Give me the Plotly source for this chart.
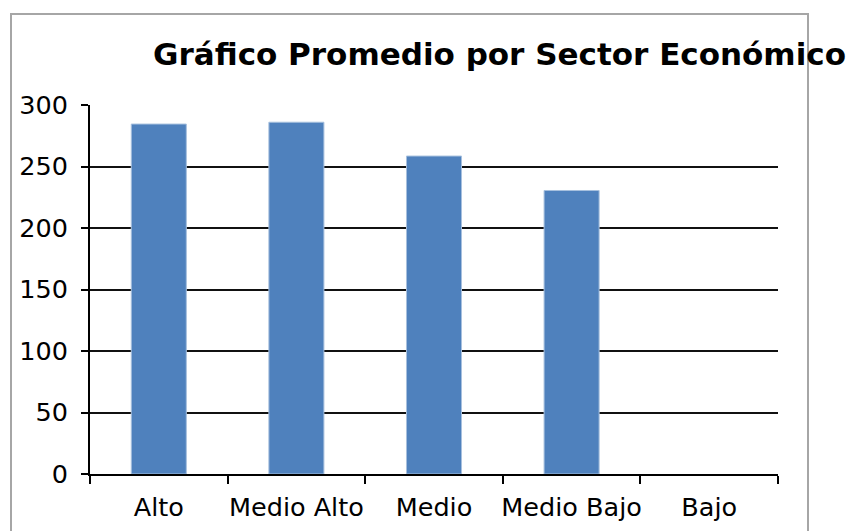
import plotly.graph_objects as go

categories = ["Alto", "Medio Alto", "Medio", "Medio Bajo", "Bajo"]
values = [284.5, 286, 258.5, 230.5, 0]
y_ticks = [0, 50, 100, 150, 200, 250, 300]
title_text = "Gráfico Promedio por Sector Económico"

L, R, T, B = 90, 71, 105, 57
W, H = 849, 531
pw, ph = W - L - R, H - T - B

def px_x(p):
    return (p - L) / pw

def px_y(p):
    return (H - B - p) / ph

fig = go.Figure()
fig.add_trace(go.Bar(
    x=categories, y=values, width=0.4,
    marker=dict(color="#4F81BD",
                line=dict(color="#A7C0DE",
                          width=[1 if v > 0 else 0 for v in values])),
))

font = "DejaVu Sans"
fig.update_layout(
    width=W, height=H,
    margin=dict(l=L, r=R, t=T, b=B),
    paper_bgcolor="white", plot_bgcolor="white",
    showlegend=False,
    font=dict(family=font, size=25.5, color="black"),
    xaxis=dict(
        type="category", tickson="boundaries", range=[-0.5, 4.5],
        ticks="outside", ticklen=8, tickwidth=2, tickcolor="black",
        showline=True, linecolor="black", linewidth=2,
        showgrid=False, zeroline=False, tickangle=0, automargin=False,
        tickfont=dict(family=font, size=25.5, color="black"),
        ticklabelstandoff=9,
    ),
    yaxis=dict(
        range=[0, 300], tickvals=y_ticks,
        ticks="outside", ticklen=7, tickwidth=2, tickcolor="black",
        showline=True, linecolor="black", linewidth=2,
        showgrid=True, gridcolor="#111", gridwidth=2,
        zeroline=False, automargin=False,
        tickfont=dict(family=font, size=25.5, color="black"),
        ticklabelstandoff=8,
    ),
    annotations=[dict(
        text="<b>" + title_text + "</b>", xref="paper", yref="paper",
        x=px_x(500), y=px_y(54), xanchor="center", yanchor="middle",
        showarrow=False, font=dict(family=font, size=31, color="black"),
    )],
    shapes=[dict(
        type="rect", xref="paper", yref="paper",
        x0=px_x(11), x1=px_x(808), y0=px_y(545), y1=px_y(14),
        line=dict(color="#A6A6A6", width=2), fillcolor="rgba(0,0,0,0)",
        layer="below",
    )],
)

fig.write_html("out.html", config={"displayModeBar": False},
               post_script="document.body.style.margin='0';")
